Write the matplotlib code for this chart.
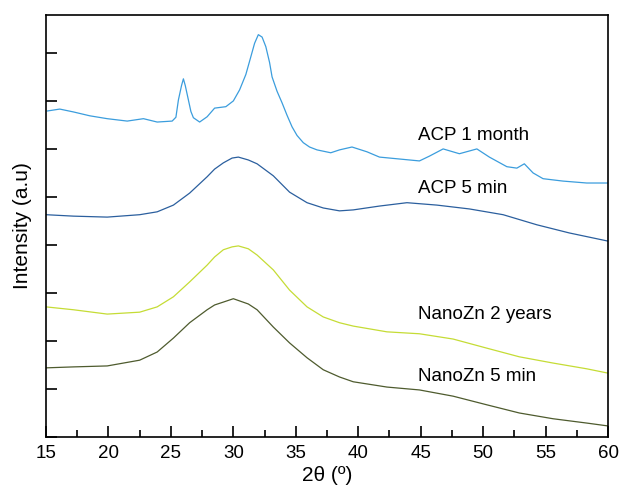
import matplotlib.pyplot as plt
from matplotlib.ticker import MultipleLocator

plt.rcParams["font.family"] = ["Liberation Sans", "DejaVu Sans"]

# XRD patterns, offset vertically (arbitrary units)
acp_1m_tt = [15.1, 16.1, 17.2, 18.5, 19.9, 21.5, 22.8, 23.9, 25.1, 25.4, 25.6, 25.85,
             26.0, 26.15, 26.4, 26.6, 26.8, 27.3, 27.9, 28.5, 29.4, 30.0, 30.5, 31.0,
             31.4, 31.7, 32.0, 32.3, 32.6, 32.9, 33.1, 33.5, 33.9, 34.3, 34.7, 35.1,
             35.6, 36.1, 36.7, 37.8, 38.5, 39.5, 40.7, 41.7, 43.3, 44.9, 45.7, 46.8,
             48.1, 49.5, 50.5, 51.9, 52.7, 53.3, 54.0, 54.8, 56.4, 58.3, 60.0]
acp_1m_int = [6.79, 6.83, 6.77, 6.69, 6.63, 6.58, 6.63, 6.56, 6.58, 6.66, 7.02, 7.32,
              7.46, 7.32, 7.02, 6.78, 6.65, 6.56, 6.67, 6.85, 6.88, 7.00, 7.23, 7.55,
              7.92, 8.20, 8.38, 8.33, 8.13, 7.80, 7.50, 7.20, 6.96, 6.70, 6.46, 6.28,
              6.13, 6.04, 5.98, 5.92, 5.98, 6.04, 5.94, 5.83, 5.79, 5.75, 5.85, 6.00,
              5.90, 6.00, 5.83, 5.63, 5.60, 5.69, 5.50, 5.38, 5.33, 5.29, 5.29]

acp_5m_tt = [15.0, 17.2, 19.9, 22.5, 23.9, 25.2, 26.5, 27.9, 28.5, 29.2, 29.9, 30.4,
             31.2, 31.9, 33.2, 34.5, 35.9, 37.2, 38.5, 39.6, 41.7, 43.9, 46.3, 48.9,
             51.6, 54.3, 56.9, 60.0]
acp_5m_int = [4.63, 4.60, 4.58, 4.63, 4.69, 4.83, 5.08, 5.42, 5.58, 5.71, 5.81, 5.83,
              5.77, 5.69, 5.44, 5.10, 4.88, 4.77, 4.71, 4.73, 4.81, 4.88, 4.83, 4.75,
              4.63, 4.42, 4.25, 4.08]

nzn_2y_tt = [15.0, 17.2, 19.9, 22.5, 23.9, 25.2, 26.5, 27.9, 28.5, 29.2, 29.9, 30.4,
             31.2, 31.9, 33.2, 34.5, 35.9, 37.2, 38.5, 39.6, 42.3, 44.9, 47.6, 50.3,
             52.9, 55.6, 58.3, 60.0]
nzn_2y_int = [2.71, 2.65, 2.56, 2.60, 2.71, 2.92, 3.23, 3.58, 3.75, 3.90, 3.96, 3.98,
              3.92, 3.79, 3.48, 3.06, 2.71, 2.50, 2.38, 2.31, 2.19, 2.15, 2.04, 1.85,
              1.67, 1.54, 1.42, 1.33]

nzn_5m_tt = [15.0, 17.2, 19.9, 22.5, 23.9, 25.2, 26.5, 27.9, 28.5, 29.2, 30.0, 31.2,
             31.9, 33.2, 34.5, 35.9, 37.2, 38.5, 39.6, 42.3, 44.9, 47.6, 50.3, 52.9,
             55.6, 58.3, 60.0]
nzn_5m_int = [1.44, 1.46, 1.48, 1.60, 1.77, 2.06, 2.38, 2.65, 2.75, 2.81, 2.88, 2.77,
              2.65, 2.29, 1.96, 1.65, 1.40, 1.25, 1.15, 1.04, 0.98, 0.85, 0.67, 0.50,
              0.38, 0.29, 0.23]

labels = ["ACP 1 month", "ACP 5 min", "NanoZn 2 years", "NanoZn 5 min"]
label_pos = [6.29, 5.17, 2.56, 1.25]

fig = plt.figure(figsize=(6.22, 4.91), dpi=100)
ax = fig.add_axes([0.074, 0.110, 0.9035, 0.8595])

ax.plot(acp_1m_tt, acp_1m_int, color="#3b9ddd", lw=0.9)
ax.plot(acp_5m_tt, acp_5m_int, color="#2b5f9e", lw=0.9)
ax.plot(nzn_2y_tt, nzn_2y_int, color="#c5dc35", lw=0.9)
ax.plot(nzn_5m_tt, nzn_5m_int, color="#4e5b2e", lw=0.9)

for text, y in zip(labels, label_pos):
    ax.text(44.8, y, text, fontsize=13.5, va="center", ha="left")

ax.set_xlim(15, 60)
ax.set_ylim(0, 8.79)
ax.xaxis.set_major_locator(MultipleLocator(5))
ax.xaxis.set_minor_locator(MultipleLocator(2.5))
ax.yaxis.set_major_locator(MultipleLocator(1))
ax.set_yticklabels([])
ax.tick_params(direction="in", length=8, width=1.2, labelsize=13.5, pad=6)
ax.tick_params(which="minor", direction="in", length=5, width=1.2)
for s in ax.spines.values():
    s.set_linewidth(1.2)

ax.set_xlabel("2θ (º)", fontsize=15, labelpad=3)
ax.set_ylabel("Intensity (a.u)", fontsize=15, labelpad=4)

fig.savefig("out.png", dpi=100)
